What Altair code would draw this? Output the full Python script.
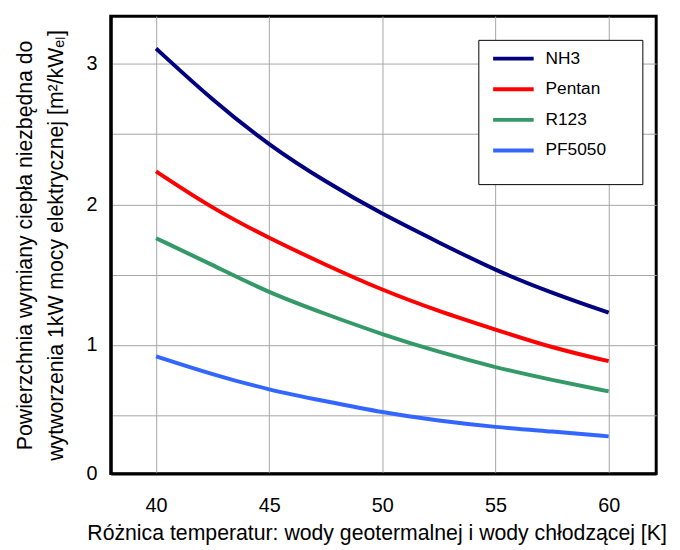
import altair as alt
import pandas as pd

temps = [40, 42.5, 45, 47.5, 50, 52.5, 55, 57.5, 60]
nh3 = [3.11, 2.74, 2.42, 2.16, 1.93, 1.73, 1.53, 1.37, 1.23]
pentan = [2.235, 1.97, 1.76, 1.57, 1.39, 1.24, 1.11, 0.98, 0.885]
r123 = [1.76, 1.57, 1.37, 1.22, 1.075, 0.95, 0.84, 0.75, 0.67]
pf5050 = [0.92, 0.79, 0.68, 0.60, 0.52, 0.46, 0.415, 0.385, 0.35]

series = ["NH3", "Pentan", "R123", "PF5050"]
colors = ["#000080", "#ff0000", "#339966", "#3366ff"]
x_ticks = [40, 45, 50, 55, 60]
y_grid = [0.085, 0.5, 1, 1.5, 2, 2.5, 3]

rows = []
for name, vals in zip(series, [nh3, pentan, r123, pf5050]):
    for t, v in zip(temps, vals):
        rows.append({"T": t, "A": v, "Medium": name})
df = pd.DataFrame(rows)

FONT = "Liberation Sans"

chart = alt.Chart(df).mark_line(strokeWidth=4, interpolate="basis").encode(
    x=alt.X(
        "T:Q",
        scale=alt.Scale(domain=[38, 62.1], nice=False, zero=False),
        axis=alt.Axis(
            values=x_ticks,
            title="Różnica temperatur: wody geotermalnej i wody chłodzącej [K]",
            titleX=269,
            titleY=67,
            titleBaseline="alphabetic",
            titleAlign="center",
            labelPadding=22,
        ),
    ),
    y=alt.Y(
        "A:Q",
        scale=alt.Scale(domain=[0.085, 3.34], nice=False, zero=False),
        axis=alt.Axis(
            values=y_grid,
            labelExpr="datum.value < 0.2 ? '0' : (datum.value % 1 === 0 ? format(datum.value, 'd') : '')",
            title=["Powierzchnia wymiany ciepła niezbędna do",
                   "wytworzenia 1kW mocy elektrycznej  [m²/kWₑₗ]"],
            titleX=-97,
            titleBaseline="top",
            titleAlign="center",
            titleLineHeight=31,
            labelPadding=14,
        ),
    ),
    color=alt.Color(
        "Medium:N",
        sort=series,
        scale=alt.Scale(domain=series, range=colors),
        legend=alt.Legend(
            title="\u2800",
            titleOrient="bottom",
            titleFontSize=10,
            titlePadding=5,
            orient="none",
            legendX=372,
            legendY=24,
            fillColor="white",
            strokeColor="black",
            padding=10,
            symbolType="M-3,0H3",
            symbolSize=187,
            symbolStrokeWidth=4,
            symbolOffset=16.5,
            labelOffset=23.5,
            labelExpr="datum.label + '\u2800\u2800'",
            rowPadding=13,
            labelFont=FONT,
            labelFontSize=17.5,
            labelColor="black",
        ),
    ),
).properties(
    width=552,
    height=463,
    background="white",
    padding={"left": 104, "top": 5, "right": 16, "bottom": 70},
    autosize=alt.AutoSizeParams(type="none"),
).configure_view(
    stroke="black", strokeWidth=3, strokeOpacity=1
).configure_axis(
    domain=True,
    domainColor="black",
    domainWidth=3,
    ticks=False,
    grid=True,
    gridColor="#a6a6a6",
    gridWidth=1,
    labelFont=FONT,
    labelFontSize=20,
    labelColor="black",
    titleFont=FONT,
    titleFontSize=21.5,
    titleFontWeight="normal",
    titleColor="black",
)

chart.save("out.html", embed_options={"renderer": "svg", "actions": False})
